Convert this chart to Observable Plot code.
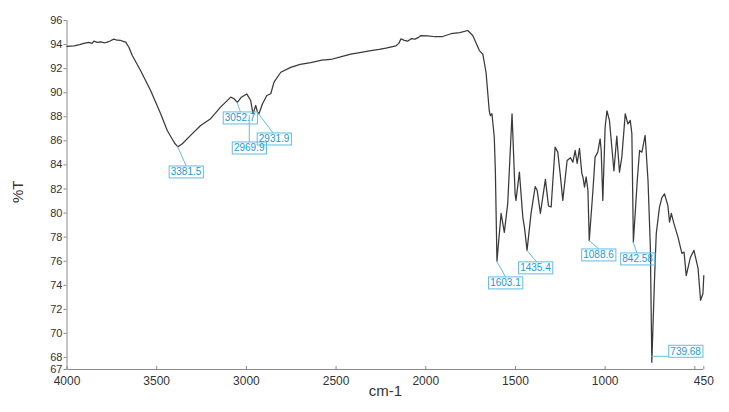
<!DOCTYPE html>
<html><head><meta charset="utf-8">
<script src="https://cdn.jsdelivr.net/npm/d3@7"></script>
<script src="https://cdn.jsdelivr.net/npm/@observablehq/plot@0.6"></script>
<style>
html,body{margin:0;padding:0;background:#fff;}
#chart{width:729px;height:412px;}
</style></head><body><div id="chart"></div>
<script>
// Spectrum (wavenumber in cm-1, %T)
const wavenumber = [4000,3960,3930,3906,3880,3860,3850,3830,3813,3790,3776,3760,3739,3720,3701,3690,3673,3655,3636,3590,3534,3478,3441,3400,3381.5,3357,3311,3255,3199,3144,3087,3069,3050,3028,2998,2976,2963,2948,2938,2930,2910,2886,2864,2846,2808,2753,2700,2641,2580,2529,2470,2418,2360,2306,2260,2222,2166,2150,2138,2120,2101,2080,2060,2040,2027,1989,1950,1906,1859,1810,1766,1738,1701,1682,1664,1646,1640,1631,1618,1612,1603.1,1580,1562,1543,1519,1502,1497,1478,1459,1450,1435.4,1413,1390,1379,1361,1333,1316,1301,1279,1264,1251,1236,1212,1193,1180,1167,1156,1143,1130,1124,1115,1106,1096,1088.6,1068,1056,1041,1028,1022,1013,1000,990,976,951,935,920,907,888,873,860,851,842.58,821,808,795,777,761,748,739.68,725,715,697,683,669,650,641,631,616,594,572,560,548,525,505,482,468,455,450];
const transmittance = [93.85,93.9,94.0,94.1,94.18,94.1,94.28,94.18,94.22,94.15,94.2,94.3,94.45,94.36,94.34,94.28,94.2,93.78,93.09,91.85,90.18,88.25,86.86,85.8,85.5,85.76,86.45,87.28,87.84,88.8,89.63,89.5,89.2,89.63,89.9,89.35,88.25,88.94,88.38,88.25,89.08,89.77,89.91,90.88,91.7,92.1,92.35,92.5,92.7,92.76,93.0,93.2,93.35,93.5,93.6,93.7,93.9,94.1,94.48,94.35,94.28,94.5,94.45,94.6,94.75,94.72,94.65,94.67,94.9,95.0,95.17,94.75,93.5,93.2,91.7,88.5,88.1,88.25,86.3,83.5,76.0,79.97,78.4,80.8,88.25,81.6,81.05,83.4,79.66,78.83,76.9,79.97,82.2,81.9,79.97,82.8,80.6,80.5,85.48,85.06,83.3,81.05,84.37,84.6,84.23,85.2,84.12,85.37,83.3,83.0,82.15,83.0,81.9,77.7,81.9,84.65,85.06,86.17,85.2,81.05,87.14,88.5,87.7,83.5,86.4,83.4,84.65,88.25,87.4,87.7,86.6,77.6,82.7,85.2,85.06,86.45,82.7,77.2,67.6,74.4,78.3,80.5,81.3,81.6,80.6,79.25,79.97,79.1,78.0,76.65,76.76,74.8,76.3,76.9,75.4,72.75,73.3,74.8];

// Axis ticks
const xTicks = [4000,3500,3000,2500,2000,1500,1000,500,450];
const xTickLabels = ["4000","3500","3000","2500","2000","1500","1000","","450"];
const yTicks = [67,68,70,72,74,76,78,80,82,84,86,88,90,92,94,96];

// Peak annotations
const peakWavenumber = [3381.5,3052.7,2969.9,2931.9,1603.1,1435.4,1088.6,842.58,739.68];
const peakTransmittance = [85.5,89.2,88.25,88.25,76.0,76.9,77.7,77.6,67.6];
const peakLabels = ["3381.5","3052.7","2969.9","2931.9","1603.1","1435.4","1088.6","842.58","739.68"];

// Annotation layout (pixel offsets from the peak): leader start, leader end, box left, box top
const annotationLayout = [
  {sx:0,sy:0,ex:8.7,ey:19.6,bx:-8.3,by:19.6},
  {sx:0.5,sy:0,ex:4,ey:10.1,bx:-13.2,by:10.1},
  {sx:-2,sy:2,ex:-2,ey:28.7,bx:-19,by:28.7},
  {sx:0,sy:0,ex:15,ey:19.7,bx:-0.9,by:19.7},
  {sx:0,sy:0,ex:9,ey:16.2,bx:-7.9,by:16.2},
  {sx:0,sy:0,ex:10,ey:12,bx:-8,by:12},
  {sx:0,sy:0,ex:10,ey:8.7,bx:-7.1,by:8.7},
  {sx:0,sy:0,ex:4,ey:11.5,bx:-12.2,by:11.5},
  {sx:0,sy:-5.5,ex:17.4,ey:-5.5,bx:17.4,by:-16.5}
];

const spectrum = wavenumber.map((w, i) => ({w, t: transmittance[i]}));
const FONT = "'Liberation Sans', Arial, Helvetica, sans-serif";
const AXIS = "#8a8a8a";
const INK = "#333";
const CYAN_TEXT = "#2299d4";
const CYAN_LINE = "#62bde6";

const chart = Plot.plot({
  width: 729,
  height: 412,
  marginLeft: 66.5,
  marginRight: 25.7,
  marginTop: 20,
  marginBottom: 43,
  style: {fontFamily: FONT, background: "#fff", color: INK, overflow: "visible"},
  x: {domain: [4000, 450]},
  y: {domain: [67, 96]},
  marks: [
    Plot.axisY(yTicks, {tickSize: 3, tickPadding: 1.5, fontSize: 11, stroke: AXIS, fill: INK, label: null}),
    Plot.axisX(xTicks, {tickSize: 0, tickPadding: 6.5, fontSize: 12, fill: INK, label: null,
      tickFormat: d => xTickLabels[xTicks.indexOf(d)]}),
    Plot.ruleX(xTicks, {x: d => d, y1: 67, y2: 67, insetTop: -3, stroke: AXIS}),
    Plot.ruleX([4000], {stroke: AXIS}),
    Plot.ruleY([67], {stroke: AXIS}),
    Plot.line(spectrum, {x: "w", y: "t", stroke: "#3a3a3a", strokeWidth: 1.25, curve: "linear"}),
    Plot.text(["%T"], {frameAnchor: "left", dx: -48.5, dy: 8, rotate: -90, fontSize: 15, fill: INK}),
    Plot.text(["cm-1"], {frameAnchor: "bottom", dy: 26, fontSize: 15, fill: INK})
  ]
});

document.getElementById("chart").appendChild(chart);

// Peak labels: boxed cyan text with leader lines, positioned through the plot's scales
const sx = chart.scale("x"), sy = chart.scale("y");
const lin = s => v => s.range[0] + (v - s.domain[0]) / (s.domain[1] - s.domain[0]) * (s.range[1] - s.range[0]);
const X = lin(sx), Y = lin(sy);
const g = d3.select(chart).append("g")
  .attr("font-family", FONT).attr("font-size", 10).attr("text-anchor", "start");
peakWavenumber.forEach((w, i) => {
  const L = annotationLayout[i];
  const px = X(w), py = Y(peakTransmittance[i]);
  g.append("line")
    .attr("x1", px + L.sx).attr("y1", py + L.sy)
    .attr("x2", px + L.ex).attr("y2", py + L.ey)
    .attr("stroke", CYAN_LINE).attr("stroke-width", 1);
  const t = g.append("text")
    .attr("x", px + L.bx + 1.6).attr("y", py + L.by + 6)
    .attr("text-anchor", "start")
    .attr("dy", "0.35em").attr("fill", CYAN_TEXT).text(peakLabels[i]);
  const bb = t.node().getBBox();
  g.insert("rect", "text")
    .attr("x", px + L.bx).attr("y", py + L.by)
    .attr("width", bb.width + 3.2).attr("height", 12)
    .attr("fill", "none").attr("stroke", CYAN_LINE).attr("stroke-width", 1);
});
</script></body></html>
